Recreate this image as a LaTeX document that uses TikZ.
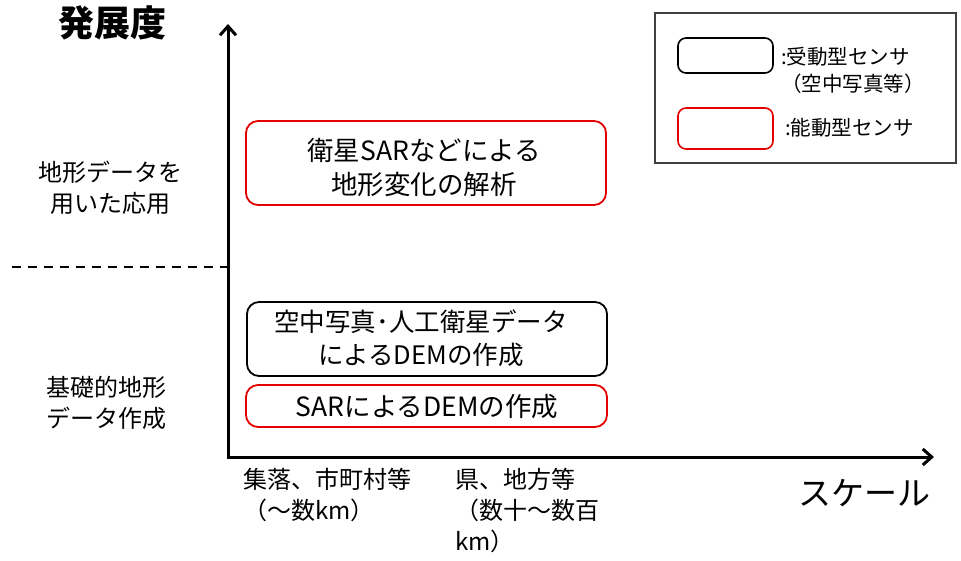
\documentclass[tikz,border=0pt]{standalone}
\usepackage{fontspec}
\setmainfont{Noto Sans CJK JP}
\usetikzlibrary{arrows.meta}
\tikzset{
  redbox/.style={draw=red!90!black, line width=1.8pt, rounded corners=12pt},
  blackbox/.style={draw=black, line width=1.8pt, rounded corners=12pt},
  axis/.style={line width=3pt, -{Straight Barb[length=9pt,width=16pt,line width=3pt]}},
  lbl/.style={font=\fontsize{24}{31}\selectfont, align=center, inner sep=0pt},
  boxtxt/.style={font=\fontsize{26.5}{34}\selectfont, align=center, inner sep=0pt},
  lgtxt/.style={font=\fontsize{20.5}{27}\selectfont, inner sep=0pt},
}
\begin{document}
\begin{tikzpicture}[x=1pt,y=-1pt]
\useasboundingbox (0,0) rectangle (961,561);
% axes
\coordinate (O) at (228,457);
\coordinate (Ytop) at (228,24);
\coordinate (Xend) at (934,457);
\draw[axis] (O) -- (Ytop);
\draw[axis] ([xshift=-1.5pt]O) -- (Xend);
% dashed divider
\coordinate (d1) at (12,267);
\coordinate (d2) at (234,267);
\draw[line width=2pt, dash pattern=on 9pt off 7pt] (d1) -- (d2);
% axis labels
\node[font=\bfseries\fontsize{36}{36}\selectfont, inner sep=0pt] (yl) at (112,23) {発展度};
\node[font=\fontsize{33}{33}\selectfont, inner sep=0pt] (xl) at (864,493) {スケール};
\node[lbl] (app) at (110,188) {地形データを\\用いた応用};
\node[lbl] (base) at (106,403) {基礎的地形\\データ作成};
% boxes
\draw[redbox] (246,121) rectangle (606,205);
\node[boxtxt] (t1) at (424,167) {衛星SARなどによる\\地形変化の解析};
\draw[blackbox] (247,302) rectangle (607,376);
\node[boxtxt, font=\fontsize{25.5}{33}\selectfont] (t2) at (421,338) {空中写真･人工衛星データ\\によるDEMの作成};
\draw[redbox] (246,385) rectangle (607,427);
\node[boxtxt] (t3) at (427,407) {SARによるDEMの作成};
% bottom labels
\node[lbl, align=left, anchor=north west] (s1) at (243,468) {集落、市町村等\\（～数km）};
\node[lbl, align=left, anchor=north west] (s2) at (455,468) {県、地方等\\（数十～数百\\km）};
% legend
\draw[line width=1.2pt, draw=black!75] (655,13) rectangle (956,163);
\draw[blackbox, line width=1.6pt, rounded corners=8pt] (678,38) rectangle (773,73);
\draw[redbox, line width=1.6pt, rounded corners=8pt] (678,108) rectangle (773,149);
\node[lgtxt, align=left, anchor=west] (lg1) at (781,70) {:受動型センサ\\（空中写真等）};
\node[lgtxt, anchor=west] (lg2) at (785,128) {:能動型センサ};
\end{tikzpicture}
\end{document}
